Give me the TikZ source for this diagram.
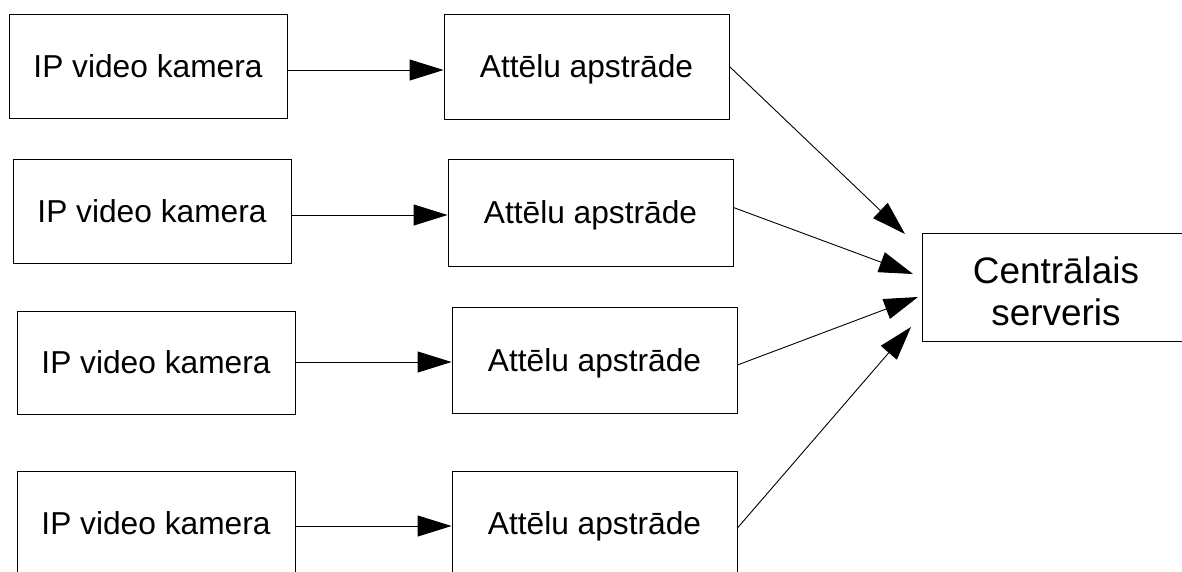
\documentclass[tikz,border=0pt]{standalone}
\usepackage{fontspec}
\setmainfont{Liberation Sans}
\usetikzlibrary{arrows.meta}

\begin{document}
\begin{tikzpicture}[x=1pt,y=-1pt,
  box/.style={draw=black, line width=0.9pt, rectangle, inner sep=0pt,
    align=center, text height=22.8pt, text depth=0pt,
    font=\fontsize{31.7}{38}\selectfont},
  cambox/.style={box, minimum width=278pt, minimum height=104pt},
  procbox/.style={box, minimum width=285pt, minimum height=105pt},
  link/.style={line width=0.9pt, -{Triangle[length=34pt,width=21pt]}}
]
\useasboundingbox (0,0) rectangle (1182,571);
\begin{scope}
\clip (0,0) rectangle (1182,571);

% cameras
\node[cambox] (cam1) at (148,66)  {IP video kamera};
\node[cambox] (cam2) at (152,211) {IP video kamera};
\node[cambox, minimum height=103pt] (cam3) at (156,362.5) {IP video kamera};
\node[cambox] (cam4) at (156,523) {IP video kamera};

% image processing units
\node[procbox] (proc1) at (586.5,66.5) {Attēlu apstrāde};
\node[procbox, minimum height=107pt] (proc2) at (590.5,212.5) {Attēlu apstrāde};
\node[procbox, minimum height=106pt] (proc3) at (594.5,360) {Attēlu apstrāde};
\node[procbox] (proc4) at (594.5,523.5) {Attēlu apstrāde};

% central server: frame and its two-line label
\node[draw=black, line width=0.9pt, rectangle, inner sep=0pt,
      minimum width=268pt, minimum height=108pt] (srv) at (1056,287) {};
\node[align=center, inner sep=0pt, font=\fontsize{36.9}{42}\selectfont]
      (srvlabel) at ([yshift=-4pt]srv.center) {Centrālais\\serveris};

% arrow tips in front of the server
\coordinate (t1) at (905,234);
\coordinate (t2) at (913,274);
\coordinate (t3) at (918,297);
\coordinate (t4) at (911,327);

% camera -> processing
\draw[link] ([yshift=-4pt]cam1.east) -- ([yshift=-4pt]cam1.east -| proc1.west);
\draw[link] ([yshift=-4pt]cam2.east) -- ([yshift=-4pt]cam2.east -| proc2.west);
\draw[link] ([yshift=0.5pt]cam3.east) -- ([yshift=0.5pt]cam3.east -| proc3.west);
\draw[link] ([yshift=-3pt]cam4.east) -- ([yshift=-3pt]cam4.east -| proc4.west);

% processing -> server
\draw[link] (proc1.east) -- (t1);
\draw[link] ([yshift=5pt]proc2.east) -- (t2);
\draw[link] ([yshift=-5pt]proc3.east) -- (t3);
\draw[link] ([yshift=-4.5pt]proc4.east) -- (t4);
\end{scope}
\end{tikzpicture}
\end{document}
